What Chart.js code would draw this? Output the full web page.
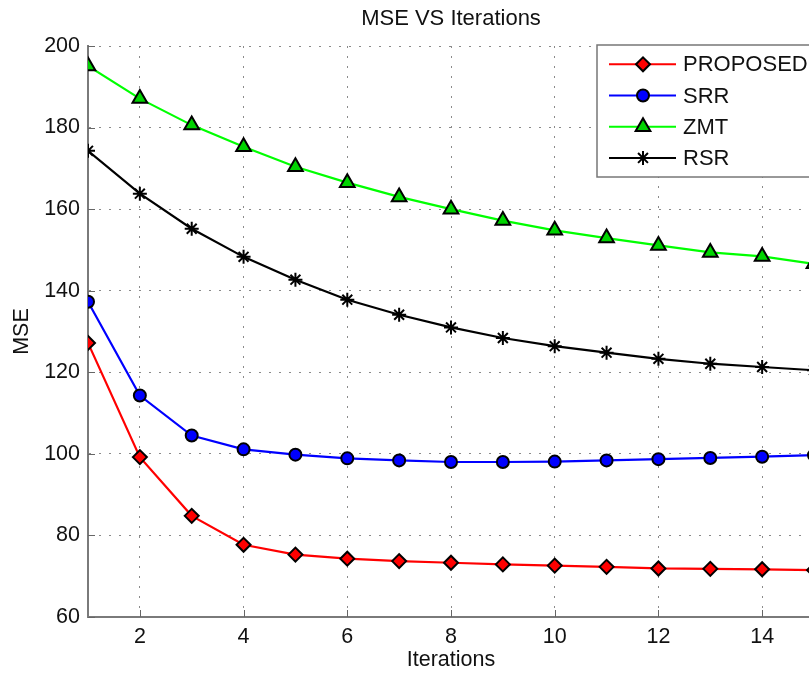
<!DOCTYPE html>
<html>
<head>
<meta charset="utf-8">
<script src="https://cdn.jsdelivr.net/npm/chart.js@4.4.1/dist/chart.umd.min.js"></script>
<style>
  html, body { margin: 0; padding: 0; background: #fff; overflow: hidden; }
  .wrap { position: relative; width: 870px; height: 673px; }
</style>
</head>
<body>
<div class="wrap"><canvas id="chart"></canvas></div>
<script>
const iterations = [1, 2, 3, 4, 5, 6, 7, 8, 9, 10, 11, 12, 13, 14, 15];
const proposed = [127.2, 99.2, 84.8, 77.7, 75.3, 74.3, 73.7, 73.3, 72.9, 72.6, 72.3, 71.9, 71.8, 71.7, 71.5];
const srr = [137.3, 114.3, 104.5, 101.1, 99.8, 98.9, 98.4, 98.0, 98.0, 98.1, 98.4, 98.7, 99.0, 99.3, 99.7];
const zmt = [195.1, 187.1, 180.6, 175.3, 170.4, 166.5, 163.0, 160.0, 157.2, 154.8, 152.9, 151.1, 149.4, 148.4, 146.6];
const rsr = [174.3, 163.8, 155.2, 148.3, 142.7, 137.8, 134.1, 131.0, 128.4, 126.4, 124.8, 123.3, 122.1, 121.3, 120.5];
const xTicks = [2, 4, 6, 8, 10, 12, 14];

const FONT = "'Liberation Sans', Arial, sans-serif";

const series = [
  { label: "PROPOSED", values: proposed, line: "#ff0000", fill: "#ff0000", style: "rectRot", r: 7 },
  { label: "SRR", values: srr, line: "#0000ff", fill: "#0000ff", style: "circle", r: 6 },
  { label: "ZMT", values: zmt, line: "#00ff00", fill: "#00d400", style: "triangle", r: 8.5 },
  { label: "RSR", values: rsr, line: "#000000", fill: "#000000", style: "star", r: 7 },
];

function drawMarker(ctx, s, x, y) {
  ctx.save();
  ctx.fillStyle = s.fill;
  ctx.strokeStyle = "#000";
  ctx.lineWidth = 2;
  ctx.beginPath();
  if (s.style === "rectRot") {
    ctx.moveTo(x - s.r, y); ctx.lineTo(x, y - s.r); ctx.lineTo(x + s.r, y); ctx.lineTo(x, y + s.r);
    ctx.closePath(); ctx.fill(); ctx.stroke();
  } else if (s.style === "circle") {
    ctx.arc(x, y, s.r, 0, Math.PI * 2); ctx.fill(); ctx.stroke();
  } else if (s.style === "triangle") {
    ctx.moveTo(x, y - s.r);
    ctx.lineTo(x + Math.sin(2 * Math.PI / 3) * s.r, y + s.r / 2);
    ctx.lineTo(x - Math.sin(2 * Math.PI / 3) * s.r, y + s.r / 2);
    ctx.closePath(); ctx.fill(); ctx.stroke();
  } else {
    for (let k = 0; k < 4; k++) {
      const a = k * Math.PI / 4;
      ctx.moveTo(x - Math.cos(a) * s.r, y - Math.sin(a) * s.r);
      ctx.lineTo(x + Math.cos(a) * s.r, y + Math.sin(a) * s.r);
    }
    ctx.stroke();
  }
  ctx.restore();
}

// matlab style inward ticks
const inwardTicks = {
  id: "inwardTicks",
  afterDatasetsDraw(chart) {
    const { ctx, chartArea, scales } = chart;
    ctx.save();
    ctx.strokeStyle = "#666";
    ctx.lineWidth = 1;
    scales.y.ticks.forEach(t => {
      const y = Math.round(scales.y.getPixelForValue(t.value)) + 0.5;
      ctx.beginPath(); ctx.moveTo(chartArea.left, y); ctx.lineTo(chartArea.left + 7, y); ctx.stroke();
    });
    scales.x.ticks.forEach(t => {
      const x = Math.round(scales.x.getPixelForValue(t.value)) + 0.5;
      ctx.beginPath(); ctx.moveTo(x, chartArea.bottom); ctx.lineTo(x, chartArea.bottom - 7); ctx.stroke();
    });
    ctx.restore();
  }
};

const boxLegend = {
  id: "boxLegend",
  afterDraw(chart) {
    const ctx = chart.ctx;
    const left = 597, top = 45, width = 240, rowH = 31.2;
    ctx.save();
    ctx.fillStyle = "#fff";
    ctx.fillRect(left, top, width, 132);
    ctx.strokeStyle = "#777";
    ctx.lineWidth = 1.5;
    ctx.strokeRect(left, top, width, 132);
    ctx.font = "22px " + FONT;
    ctx.textBaseline = "middle";
    series.forEach((s, i) => {
      const y = 64.3 + i * rowH;
      ctx.strokeStyle = s.line;
      ctx.lineWidth = 2;
      ctx.beginPath(); ctx.moveTo(609, y); ctx.lineTo(676, y); ctx.stroke();
      drawMarker(ctx, s, 643, y);
      ctx.fillStyle = "#111";
      ctx.fillText(s.label, 683, y + 1);
    });
    ctx.restore();
  }
};

new Chart(document.getElementById("chart"), {
  type: "line",
  data: {
    labels: iterations,
    datasets: series.map(s => ({
      label: s.label,
      data: iterations.map((x, i) => ({ x, y: s.values[i] })),
      borderColor: s.line,
      borderWidth: 2.2,
      backgroundColor: s.fill,
      pointStyle: s.style,
      pointRadius: s.r,
      pointBackgroundColor: s.fill,
      pointBorderColor: "#000",
      pointBorderWidth: 2,
      tension: 0,
      fill: false,
    })),
  },
  options: {
    responsive: true,
    maintainAspectRatio: false,
    animation: false,
    layout: { padding: { left: 0, right: 56, top: 0, bottom: 0 } },
    plugins: {
      legend: { display: false },
      tooltip: { enabled: false },
      title: {
        display: true,
        text: "MSE VS Iterations",
        fullSize: false,
        color: "#111",
        font: { family: FONT, size: 22, weight: "normal" },
        padding: { top: 6, bottom: 13.6 },
      },
    },
    scales: {
      x: {
        type: "linear",
        min: 1,
        max: 15,
        afterBuildTicks: scale => { scale.ticks = xTicks.map(v => ({ value: v })); },
        afterFit: scale => { scale.height = 56; },
        grid: { color: "#8a8a8a", lineWidth: 1, drawTicks: false },
        border: { display: true, color: "#7a7a7a", width: 2, dash: [2, 8] },
        ticks: { color: "#111", padding: 7, font: { family: FONT, size: 21.5 }, maxRotation: 0 },
        title: {
          display: true, text: "Iterations", color: "#111",
          font: { family: FONT, size: 21.5 }, padding: { top: 0, bottom: 0 },
        },
      },
      y: {
        min: 60,
        max: 200,
        afterFit: scale => { scale.width = 88; },
        grid: { color: "#8a8a8a", lineWidth: 1, drawTicks: false },
        border: { display: true, color: "#7a7a7a", width: 2, dash: [2, 8] },
        ticks: { stepSize: 20, color: "#111", padding: 8, font: { family: FONT, size: 21.5 } },
        title: {
          display: true, text: "MSE", color: "#111",
          font: { family: FONT, size: 21.5 }, padding: { top: 9, bottom: 0 },
        },
      },
    },
  },
  plugins: [inwardTicks, boxLegend],
});
</script>
</body>
</html>
